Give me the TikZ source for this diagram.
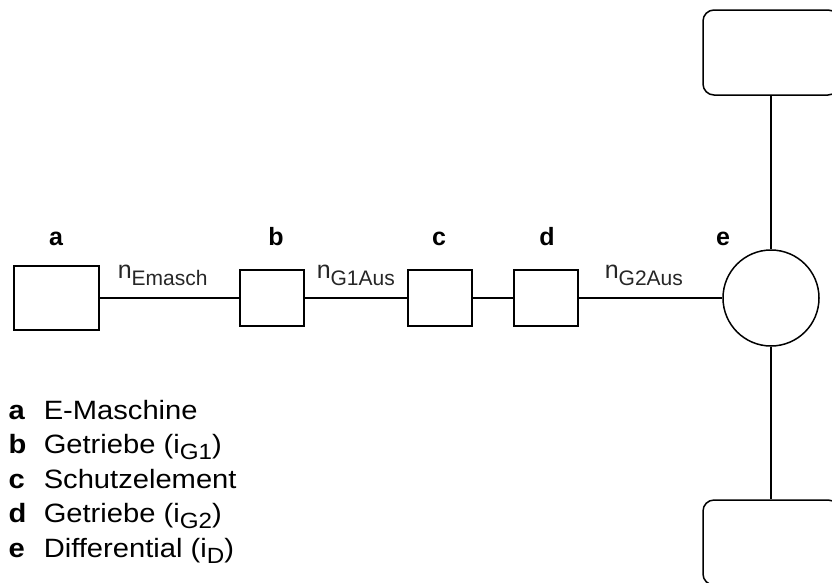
\documentclass[tikz,border=0pt]{standalone}
\usepackage{fontspec}
\setmainfont{Liberation Sans}
\newfontfamily\legfont[FakeStretch=1.1]{Liberation Sans}
\newcommand\subtx[1]{\raisebox{-7pt}{\fontsize{21}{21}\selectfont #1}}
\newcommand\legsub[1]{\raisebox{-6pt}{\fontsize{22}{22}\selectfont #1}}
\begin{document}
\begin{tikzpicture}[x=1pt,y=-1pt,line width=1.5pt,
  blk/.style={draw, minimum width=64, minimum height=56, inner sep=0},
  wheel/.style={draw, rounded corners=11pt, minimum width=136, minimum height=85, inner sep=0},
  diff/.style={draw, circle, minimum size=96, inner sep=0},
  toplbl/.style={font=\fontsize{25}{30}\selectfont\bfseries, inner sep=0, anchor=base},
  speed/.style={font=\fontsize{25}{30}\selectfont, inner sep=0, anchor=base west, text=black!85},
  legkey/.style={font=\legfont\fontsize{26.5}{30}\selectfont\bfseries, inner sep=0, anchor=base west},
  legtxt/.style={font=\legfont\fontsize{26.5}{30}\selectfont, inner sep=0, anchor=base west}]
\clip (0,0) rectangle (832,582);
\fill[white] (0,0) rectangle (832,582);
% blocks
\node[blk, minimum width=85, minimum height=64] (a) at (56.5,298) {};
\node[blk] (b) at (272,298) {};
\node[blk] (c) at (440,298) {};
\node[blk] (d) at (546,298) {};
\node[diff] (e) at (771,298) {};
\node[wheel] (wt) at (771,52.5) {};
\node[wheel] (wb) at (771,542.5) {};
% connectors
\draw (a.east) -- (b.west);
\draw (b.east) -- (c.west);
\draw (c.east) -- (d.west);
\draw (d.east) -- (e.west);
\draw (wt.south) -- (e.north);
\draw (e.south) -- (wb.north);
% top labels
\node[toplbl] (la) at (56,245) {a};
\node[toplbl] (lb) at (276,245) {b};
\node[toplbl] (lc) at (439,245) {c};
\node[toplbl] (ld) at (547,245) {d};
\node[toplbl] (le) at (723,245) {e};
% speed labels
\node[speed] (s1) at (117,278) {n\subtx{Emasch}};
\node[speed] (s2) at (316,278) {n\subtx{G1Aus}};
\node[speed] (s3) at (604,278) {n\subtx{G2Aus}};
% legend
\node[legkey] (ka) at (8,419) {a};
\node[legtxt] (ta) at (43,419) {E-Maschine};
\node[legkey] (kb) at (8,453.5) {b};
\node[legtxt] (tb) at (43,453.5) {Getriebe (i\legsub{G1})};
\node[legkey] (kc) at (8,488) {c};
\node[legtxt] (tc) at (43,488) {Schutzelement};
\node[legkey] (kd) at (8,522.5) {d};
\node[legtxt] (td) at (43,522.5) {Getriebe (i\legsub{G2})};
\node[legkey] (ke) at (8,557) {e};
\node[legtxt] (te) at (43,557) {Differential (i\legsub{D})};
\end{tikzpicture}
\end{document}
